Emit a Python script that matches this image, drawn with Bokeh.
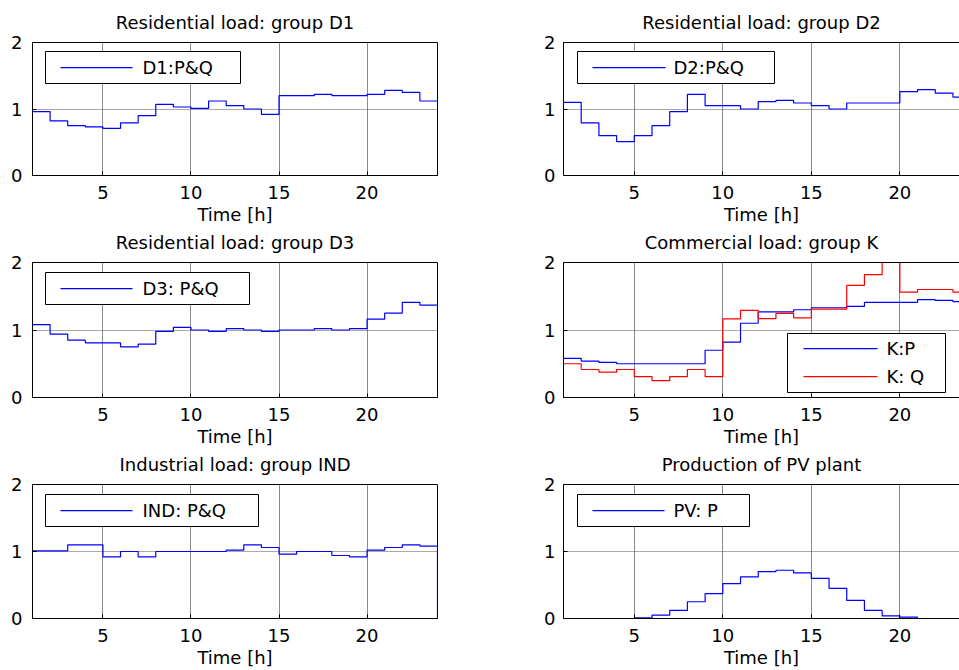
from bokeh.plotting import figure
from bokeh.layouts import column, row
from bokeh.models import FixedTicker, LinearAxis, Range1d, BoxAnnotation, Arrow, Label
from bokeh.embed import file_html
from bokeh.resources import INLINE

# ---- data ----
hours = list(range(1, 25))
D1 = [0.96, 0.82, 0.75, 0.73, 0.71, 0.79, 0.90, 1.07, 1.03, 1.01, 1.12, 1.05,
      1.00, 0.92, 1.20, 1.20, 1.22, 1.20, 1.20, 1.22, 1.28, 1.25, 1.12, 1.12]
D2 = [1.10, 0.79, 0.60, 0.51, 0.60, 0.75, 0.96, 1.22, 1.05, 1.05, 1.00, 1.11,
      1.13, 1.09, 1.05, 1.00, 1.09, 1.09, 1.09, 1.26, 1.29, 1.24, 1.18, 1.18]
D3 = [1.08, 0.94, 0.85, 0.81, 0.81, 0.75, 0.79, 0.98, 1.04, 1.00, 0.98, 1.02,
      1.00, 0.98, 1.00, 1.00, 1.02, 1.00, 1.02, 1.16, 1.25, 1.41, 1.37, 1.26]
K_P = [0.58, 0.54, 0.52, 0.50, 0.50, 0.50, 0.50, 0.50, 0.70, 0.82, 1.10, 1.27,
       1.27, 1.30, 1.33, 1.33, 1.35, 1.41, 1.41, 1.41, 1.45, 1.44, 1.42, 1.42]
K_Q = [0.50, 0.415, 0.375, 0.415, 0.31, 0.25, 0.31, 0.415, 0.31, 1.165, 1.29, 1.17,
       1.245, 1.18, 1.31, 1.31, 1.66, 1.82, 2.00, 1.56, 1.60, 1.60, 1.56, 1.56]
IND = [1.01, 1.01, 1.10, 1.10, 0.92, 1.00, 0.92, 1.00, 1.00, 1.00, 1.00, 1.02,
       1.10, 1.06, 0.96, 1.00, 1.00, 0.94, 0.92, 1.02, 1.06, 1.10, 1.08, 0.00]
PV = [0.00, 0.00, 0.00, 0.00, 0.01, 0.05, 0.12, 0.25, 0.37, 0.52, 0.62, 0.70,
      0.72, 0.68, 0.60, 0.45, 0.27, 0.12, 0.04, 0.02, 0.00, 0.00, 0.00, 0.00]

titles = ["Residential load: group D1", "Residential load: group D2",
          "Residential load: group D3", "Commercial load: group K",
          "Industrial load: group IND", "Production of PV plant"]
legend_labels = ["D1:P&Q", "D2:P&Q", "D3: P&Q", "K:P", "K: Q", "IND: P&Q", "PV: P"]
x_ticks = [5, 10, 15, 20]
y_ticks = [0, 1, 2]
x_label = "Time [h]"

FONT = "DejaVu Sans"
FS = "18px"
BLUE = "#0000ff"
RED = "#ff0000"
# legend keys: same hue, written differently so the SVG stroke style is always re-applied
KEY_COLOR = {BLUE: "rgb(0, 0, 254)", RED: "rgb(254, 0, 0)"}


def style_axis(ax):
    ax.major_tick_in = 4
    ax.major_tick_out = 0
    ax.minor_tick_line_color = None
    ax.axis_line_color = "black"
    ax.major_tick_line_color = "black"
    ax.major_label_text_font = FONT
    ax.major_label_text_font_size = FS
    ax.major_label_text_color = "black"
    ax.axis_label_text_font = FONT
    ax.axis_label_text_font_size = FS
    ax.axis_label_text_font_style = "normal"
    ax.axis_label_text_color = "black"


def add_legend(p, entries, box, key_x0, key_x1, label_x, rows_y):
    """Legend drawn with annotations in screen units (relative to the frame's bottom-left)."""
    left, right, bottom, top = box
    p.add_layout(BoxAnnotation(left=left, right=right, bottom=bottom, top=top,
                               left_units="screen", right_units="screen",
                               bottom_units="screen", top_units="screen",
                               fill_color="white", fill_alpha=1.0,
                               line_color="black", line_width=1, line_alpha=1.0))
    for (label, color), yy in zip(entries, rows_y):
        p.add_layout(Arrow(x_start=key_x0, y_start=yy, x_end=key_x1, y_end=yy,
                           start_units="screen", end_units="screen",
                           start=None, end=None, line_color=KEY_COLOR[color],
                           line_width=1.25, line_alpha=1.0))
        p.add_layout(Label(x=label_x, y=yy, x_units="screen", y_units="screen",
                           text=label, text_font=FONT, text_font_size=FS,
                           text_color="black", text_baseline="middle", text_align="left"))


def make_panel(title, series, left_side, frame_h, top_b, bottom_b):
    if left_side:
        fw, x_end, mbl, mbr = 405, 24, 32, 43
    else:
        fw, x_end, mbl, mbr = 396, 23.37, 83, 0
    p = figure(frame_width=fw, frame_height=frame_h,
               x_range=Range1d(1, x_end), y_range=Range1d(0, 2),
               output_backend="svg", toolbar_location=None,
               min_border_left=mbl, min_border_right=mbr,
               min_border_top=top_b, min_border_bottom=bottom_b, title=title)
    p.background_fill_color = "white"
    p.border_fill_alpha = 0.0

    xa = p.below[0]
    ya = p.left[0]
    xa.ticker = FixedTicker(ticks=x_ticks)
    xa.axis_label = x_label
    xa.axis_label_standoff = 2
    xa.major_label_standoff = 10
    ya.ticker = FixedTicker(ticks=y_ticks)
    ya.major_label_standoff = 10 if left_side else 8
    style_axis(xa)
    style_axis(ya)

    if left_side:
        p.outline_line_color = "black"
        p.outline_line_width = 1
    else:
        p.outline_line_color = None
        top_ax = LinearAxis(ticker=FixedTicker(ticks=[]), axis_line_color="black",
                            major_tick_line_color=None, minor_tick_line_color=None,
                            major_label_standoff=0, axis_label_standoff=0,
                            major_tick_in=0, major_tick_out=0)
        p.add_layout(top_ax, "above")

    p.title.text_font = FONT
    p.title.text_font_size = FS
    p.title.text_font_style = "normal"
    p.title.text_color = "black"
    p.title.align = "center"
    p.title.standoff = 19

    p.xgrid.ticker = FixedTicker(ticks=x_ticks)
    p.xgrid.grid_line_color = "#8a8a8a"
    p.xgrid.grid_line_width = 1
    p.ygrid.ticker = FixedTicker(ticks=[1])
    p.ygrid.grid_line_color = "#555555"
    p.ygrid.grid_line_dash = "1 1"

    for vals, color in series:
        p.step(hours, vals, mode="after", line_color=color, line_width=1.2)
    return p


p1 = make_panel(titles[0], [(D1, BLUE)], True, 133, 42, 53)
add_legend(p1, [(legend_labels[0], BLUE)], (13, 208, 92, 124), 28, 100, 110, [108])
p2 = make_panel(titles[1], [(D2, BLUE)], False, 133, 42, 53)
add_legend(p2, [(legend_labels[1], BLUE)], (14, 211, 92, 124), 29, 102, 110, [108])
p3 = make_panel(titles[2], [(D3, BLUE)], True, 135, 42, 53)
add_legend(p3, [(legend_labels[2], BLUE)], (13, 217, 93, 125), 28, 100, 110, [109])
p4 = make_panel(titles[3], [(K_P, BLUE), (K_Q, RED)], False, 135, 42, 53)
add_legend(p4, [(legend_labels[3], BLUE), (legend_labels[4], RED)], (224, 382, 5, 64),
           240, 314, 323, [49, 21])
p5 = make_panel(titles[4], [(IND, BLUE)], True, 134, 42, 52)
add_legend(p5, [(legend_labels[5], BLUE)], (13, 226, 92, 124), 28, 100, 110, [108])
p6 = make_panel(titles[5], [(PV, BLUE)], False, 134, 42, 52)
add_legend(p6, [(legend_labels[6], BLUE)], (14, 186, 92, 124), 29, 101, 110, [108])

r1 = row(p1, p2)
r2 = row(p3, p4, margin=(-8, 0, 0, 0))
r3 = row(p5, p6, margin=(-8, 0, 0, 0))
layout = column(r1, r2, r3)
open("out.html", "w").write(file_html(layout, INLINE))
